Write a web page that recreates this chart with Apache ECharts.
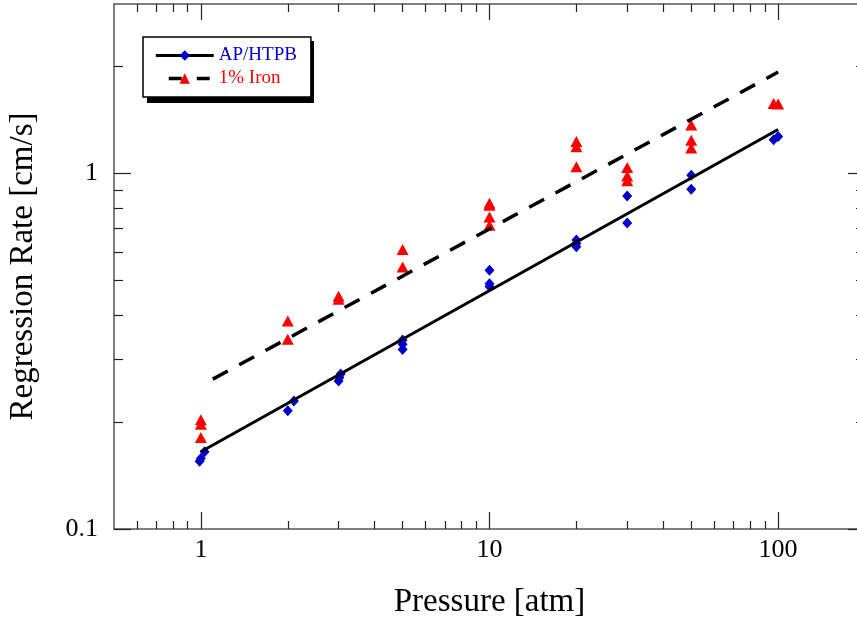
<!DOCTYPE html>
<html><head><meta charset="utf-8">
<script src="https://cdn.jsdelivr.net/npm/echarts@6/dist/echarts.min.js"></script>
<style>html,body{margin:0;padding:0;background:#fff}#c{width:857px;height:623px}</style>
</head><body><div id="c"></div>
<script>
// ---- data ----
const apPressure = [0.99, 1.0, 1.03, 2.0, 2.1, 3.0, 3.02, 3.05, 5.0, 5.0, 5.0, 10, 10, 10, 20, 20, 20, 30, 30, 50, 50, 96.5, 100];
const apRate     = [0.155, 0.158, 0.165, 0.215, 0.229, 0.261, 0.267, 0.273, 0.340, 0.331, 0.320, 0.535, 0.490, 0.481, 0.650, 0.636, 0.622, 0.865, 0.726, 0.989, 0.903, 1.245, 1.272];
const ironPressure = [1, 1, 1, 2, 2, 3, 3, 5, 5, 10, 10, 10, 10, 20, 20, 20, 30, 30, 30, 50, 50, 50, 96.5, 100];
const ironRate     = [0.203, 0.197, 0.181, 0.385, 0.342, 0.452, 0.443, 0.611, 0.546, 0.825, 0.815, 0.755, 0.715, 1.23, 1.19, 1.045, 1.04, 0.985, 0.955, 1.37, 1.24, 1.18, 1.575, 1.57];
const apFitPressure = [1, 100];
const apFitRate     = [0.165, 1.33];
const ironFitPressure = [1.1, 100];
const ironFitRate     = [0.264, 1.93];
const seriesNames = ['AP/HTPB', '1% Iron'];
const xRange = [0.5, 200];
const yRange = [0.1, 3];
const xMajorTicks = [1, 10, 100];
const xMinorTicks = [0.6, 0.7, 0.8, 0.9, 2, 3, 4, 5, 6, 7, 8, 9, 20, 30, 40, 50, 60, 70, 80, 90];
const yMajorTicks = [0.1, 1];
const yMinorTicks = [0.2, 0.3, 0.4, 0.5, 0.6, 0.7, 0.8, 0.9, 2];
const xTitle = 'Pressure [atm]';
const yTitle = 'Regression Rate [cm/s]';

// ---- styling ----
const FONT = '"Liberation Serif", "Times New Roman", Times, serif';
const BLUE = '#0000CC';
const RED = '#FF0000';
const AXIS = '#555';
const lg = Math.log10;
const zip = (a, b) => a.map((v, i) => [v, b[i]]);
const fmt = v => String(+Math.pow(10, v).toPrecision(3));

function decoAxis(dim, position, ticks, len, opts) {
  const range = dim === 'x' ? xRange : yRange;
  const vals = ticks.map(lg);
  const ax = {
    type: 'value', gridIndex: 0, position: position,
    min: lg(range[0]), max: lg(range[1]),
    splitLine: { show: false },
    axisLine: { show: !!opts.line, onZero: false, lineStyle: { color: AXIS, width: 1.5 } },
    axisTick: { show: true, inside: true, length: len, customValues: vals, lineStyle: { color: '#222', width: 1.2 } },
    axisLabel: { show: false }
  };
  if (opts.labels) {
    ax.axisLabel = { show: true, customValues: vals, formatter: fmt, fontFamily: FONT, fontSize: 26, color: '#000', margin: opts.margin };
  }
  if (opts.name) {
    ax.name = opts.name;
    ax.nameLocation = 'middle';
    ax.nameGap = opts.nameGap;
    ax.nameTextStyle = { fontFamily: FONT, fontSize: 33, color: '#000' };
  }
  return ax;
}

const LEG = { left: 143, top: 37, width: 167, height: 62 };

const chart = echarts.init(document.getElementById('c'), null, { renderer: 'canvas' });
chart.setOption({
  animation: false,
  backgroundColor: '#fff',
  grid: { left: 114, right: -8, top: 4, bottom: 94, containLabel: false, outerBoundsMode: 'none' },
  xAxis: [
    { type: 'log', gridIndex: 0, min: xRange[0], max: xRange[1], show: false, splitLine: { show: false } },
    decoAxis('x', 'bottom', xMajorTicks, 17, { line: true, labels: true, margin: 8, name: xTitle, nameGap: 57 }),
    decoAxis('x', 'bottom', xMinorTicks, 8, {}),
    decoAxis('x', 'top', xMajorTicks, 16, { line: true }),
    decoAxis('x', 'top', xMinorTicks, 8, {})
  ],
  yAxis: [
    { type: 'log', gridIndex: 0, min: yRange[0], max: yRange[1], show: false, splitLine: { show: false } },
    decoAxis('y', 'left', yMajorTicks, 17, { line: true, labels: true, margin: 16, name: yTitle, nameGap: 74 }),
    decoAxis('y', 'left', yMinorTicks, 9, {}),
    decoAxis('y', 'right', yMajorTicks, 17, { line: true }),
    decoAxis('y', 'right', yMinorTicks, 9, {})
  ],
  graphic: [
    { type: 'rect', z: 3, silent: true,
      shape: { x: LEG.left + 4, y: LEG.top + 4, width: LEG.width, height: LEG.height },
      style: { fill: '#000' } }
  ],
  legend: {
    orient: 'vertical', left: LEG.left, top: LEG.top, z: 5,
    padding: [9, 14, 9, 11],
    itemWidth: 58, itemHeight: 13, itemGap: 4,
    selectedMode: false,
    backgroundColor: '#fff', borderColor: '#000', borderWidth: 1.5,
    textStyle: { fontFamily: FONT, fontSize: 19 },
    data: [
      { name: seriesNames[0], textStyle: { color: BLUE }, lineStyle: { width: 3, color: '#000', type: 'solid' } },
      { name: seriesNames[1], textStyle: { color: RED }, lineStyle: { width: 3.5, color: '#000', type: [13, 15], dashOffset: 15 } }
    ]
  },
  series: [
    {
      name: seriesNames[0], type: 'line', xAxisIndex: 0, yAxisIndex: 0,
      data: zip(apFitPressure, apFitRate),
      symbol: 'diamond', showSymbol: false, silent: true,
      itemStyle: { color: BLUE },
      lineStyle: { color: '#000', width: 3 }
    },
    {
      name: seriesNames[1], type: 'line', xAxisIndex: 0, yAxisIndex: 0,
      data: zip(ironFitPressure, ironFitRate),
      symbol: 'triangle', showSymbol: false, silent: true,
      itemStyle: { color: RED },
      lineStyle: { color: '#000', width: 3.5, type: [17, 13], cap: 'butt' }
    },
    {
      name: seriesNames[0] + ' data', type: 'scatter', xAxisIndex: 0, yAxisIndex: 0,
      data: zip(apPressure, apRate),
      symbol: 'diamond', symbolSize: [10, 11], silent: true,
      itemStyle: { color: BLUE, opacity: 1 }
    },
    {
      name: seriesNames[1] + ' data', type: 'scatter', xAxisIndex: 0, yAxisIndex: 0,
      data: zip(ironPressure, ironRate),
      symbol: 'triangle', symbolSize: [12, 11], silent: true,
      itemStyle: { color: RED, opacity: 1 }
    }
  ]
});
</script>
</body></html>
